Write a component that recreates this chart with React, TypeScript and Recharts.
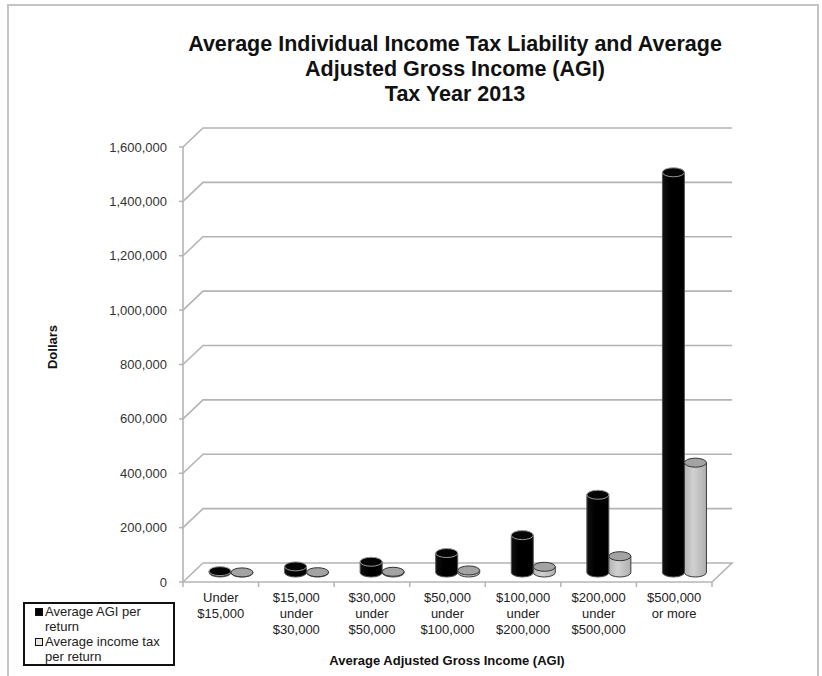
import React from "react";
import {
  Bar,
  BarChart,
  CartesianGrid,
  Legend,
  XAxis,
  YAxis,
} from "recharts";

const categories = [
  "Under $15,000",
  "$15,000 under $30,000",
  "$30,000 under $50,000",
  "$50,000 under $100,000",
  "$100,000 under $200,000",
  "$200,000 under $500,000",
  "$500,000 or more",
];

const categoryLines = [
  ["Under", "$15,000"],
  ["$15,000", "under", "$30,000"],
  ["$30,000", "under", "$50,000"],
  ["$50,000", "under", "$100,000"],
  ["$100,000", "under", "$200,000"],
  ["$200,000", "under", "$500,000"],
  ["$500,000", "or more"],
];

const avgAgi = [5000, 22500, 39500, 71500, 137500, 286000, 1472000];
const avgTax = [300, 1100, 2700, 7500, 21000, 60000, 404000];

const yTicks = [0, 200000, 400000, 600000, 800000, 1000000, 1200000, 1400000, 1600000];

const titleLines = [
  "Average Individual Income Tax Liability and Average",
  "Adjusted Gross Income (AGI)",
  "Tax Year 2013",
];

const data = categories.map((name, i) => ({
  name,
  agi: avgAgi[i],
  tax: avgTax[i],
}));

const FONT = "'Liberation Sans', Arial, sans-serif";
const DX = 20;
const DY = 19;
const PLOT_LEFT = 183;
const PLOT_RIGHT = 712;
const PLOT_TOP = 147;
const FLOOR_Y = 582;
const BAND = (PLOT_RIGHT - PLOT_LEFT) / categories.length;
const GRID = "#b4b4b4";

const BackGridLine = (props: any) => {
  const { x1, y1, x2, y2 } = props;
  const isFloor = Math.abs(y1 - FLOOR_Y) < 1;
  let d = `M${x1},${y1} L${x1 + DX},${y1 - DY} L${x2 + DX},${y2 - DY}`;
  if (isFloor) d += ` L${x2},${y2}`;
  return <path d={d} fill="none" stroke={GRID} strokeWidth={1.6} />;
};

const Cylinder = (props: any) => {
  const { x, y, width, height, fill } = props;
  const dark = fill === "#000000";
  const rx = width / 2;
  const ry = 4.5;
  const x0 = x + DX / 2;
  const x1 = x0 + width;
  const cx = x0 + rx;
  const top = y - DY / 2;
  const bottom = y + height - DY / 2;
  const body = `M${x0},${top} L${x0},${bottom} A${rx},${ry} 0 0 0 ${x1},${bottom} L${x1},${top} Z`;
  return (
    <g>
      <path
        d={body}
        fill={dark ? "url(#blackBody)" : "url(#grayBody)"}
        stroke={dark ? "#555" : "#3a3a3a"}
        strokeWidth={1}
      />
      <ellipse
        cx={cx}
        cy={top}
        rx={rx}
        ry={ry}
        fill={dark ? "#050505" : "#a3a3a3"}
        stroke={dark ? "#9a9a9a" : "#333"}
        strokeWidth={1}
      />
    </g>
  );
};

const CategoryTick = (props: any) => {
  const { x, payload } = props;
  const idx = payload.index ?? categories.indexOf(payload.value);
  const lines = categoryLines[idx] || [payload.value];
  const left = x - BAND / 2;
  return (
    <g>
      <line x1={left} y1={FLOOR_Y} x2={left} y2={FLOOR_Y + 5} stroke={GRID} strokeWidth={1.5} />
      {idx === categories.length - 1 && (
        <line x1={x + BAND / 2} y1={FLOOR_Y} x2={x + BAND / 2} y2={FLOOR_Y + 5} stroke={GRID} strokeWidth={1.5} />
      )}
      {lines.map((t, i) => (
        <text
          key={i}
          x={x}
          y={FLOOR_Y + 20 + i * 16}
          textAnchor="middle"
          fontSize={13}
          fontFamily={FONT}
          fill="#222"
        >
          {t}
        </text>
      ))}
    </g>
  );
};

const XTitle = () => (
  <text
    x={447}
    y={665}
    textAnchor="middle"
    fontSize={13}
    fontWeight="bold"
    fontFamily={FONT}
    fill="#111"
  >
    Average Adjusted Gross Income (AGI)
  </text>
);

const YTitle = () => (
  <text
    x={57}
    y={347}
    transform="rotate(-90 57 347)"
    textAnchor="middle"
    fontSize={13}
    fontWeight="bold"
    fontFamily={FONT}
    fill="#111"
  >
    Dollars
  </text>
);

const LegendBox = ({ payload }: any) => (
  <div
    style={{
      border: "2px solid #111",
      width: 152,
      height: 64,
      boxSizing: "border-box",
      padding: "0 0 0 10px",
      fontFamily: FONT,
      fontSize: 13,
      color: "#222",
      textAlign: "left",
    }}
  >
    {(payload || []).map((item: any) => (
      <div key={item.value} style={{ display: "flex", lineHeight: "15px" }}>
        <span
          style={{
            display: "inline-block",
            width: 6,
            height: 6,
            marginTop: 4,
            marginRight: 2,
            flex: "none",
            background: item.color === "#000000" ? "#000" : "#e6e6e6",
            border: "1px solid #111",
          }}
        />
        <span style={{ width: 122 }}>{item.value}</span>
      </div>
    ))}
  </div>
);

export default function App() {
  return (
    <div style={{ position: "absolute", left: 0, top: 0, width: 822, height: 676, background: "#fff", overflow: "hidden" }}>
      <div
        style={{
          position: "absolute",
          left: 7,
          top: 4,
          width: 812,
          height: 700,
          border: "2px solid #c4c4c4",
          boxSizing: "border-box",
        }}
      />
      <div
        style={{
          position: "absolute",
          left: 90,
          top: 32,
          width: 730,
          textAlign: "center",
          fontFamily: FONT,
          fontWeight: "bold",
          fontSize: 21.5,
          lineHeight: "25px",
          color: "#111",
        }}
      >
        {titleLines.map((t) => (
          <div key={t}>{t}</div>
        ))}
      </div>
      <div style={{ position: "absolute", left: 0, top: 0 }}>
        <BarChart
          width={822}
          height={676}
          data={data}
          margin={{ top: PLOT_TOP, right: 822 - PLOT_RIGHT, left: PLOT_LEFT - 60, bottom: 676 - FLOOR_Y - 60 }}
          barGap={0}
          barSize={22}
        >
          <defs>
            <linearGradient id="blackBody" x1="0" y1="0" x2="1" y2="0">
              <stop offset="0%" stopColor="#111" />
              <stop offset="35%" stopColor="#000" />
              <stop offset="100%" stopColor="#000" />
            </linearGradient>
            <linearGradient id="grayBody" x1="0" y1="0" x2="1" y2="0">
              <stop offset="0%" stopColor="#b5b5b5" />
              <stop offset="40%" stopColor="#d0d0d0" />
              <stop offset="100%" stopColor="#b0b0b0" />
            </linearGradient>
          </defs>
          <CartesianGrid vertical={false} horizontal={BackGridLine} />
          <XAxis
            dataKey="name"
            height={60}
            interval={0}
            tickLine={false}
            axisLine={{ stroke: GRID, strokeWidth: 1.6 }}
            tick={<CategoryTick />}
            label={<XTitle />}
          />
          <YAxis
            width={60}
            domain={[0, 1600000]}
            ticks={yTicks}
            interval={0}
            tickSize={4}
            tickMargin={12}
            axisLine={{ stroke: GRID, strokeWidth: 1.6 }}
            tickLine={{ stroke: GRID, strokeWidth: 1.5 }}
            tick={{ fontSize: 13, fill: "#333", fontFamily: FONT }}
            tickFormatter={(v: number) => v.toLocaleString("en-US")}
            label={<YTitle />}
          />
          <Legend
            layout="horizontal"
            verticalAlign="middle"
            align="center"
            content={<LegendBox />}
            wrapperStyle={{ left: 23, top: 602, width: 152, height: 64 }}
          />
          <Bar dataKey="agi" name="Average AGI per return" fill="#000000" shape={<Cylinder />} isAnimationActive={false} />
          <Bar dataKey="tax" name="Average income tax per return" fill="#c0c0c0" shape={<Cylinder />} isAnimationActive={false} />
        </BarChart>
      </div>
    </div>
  );
}
